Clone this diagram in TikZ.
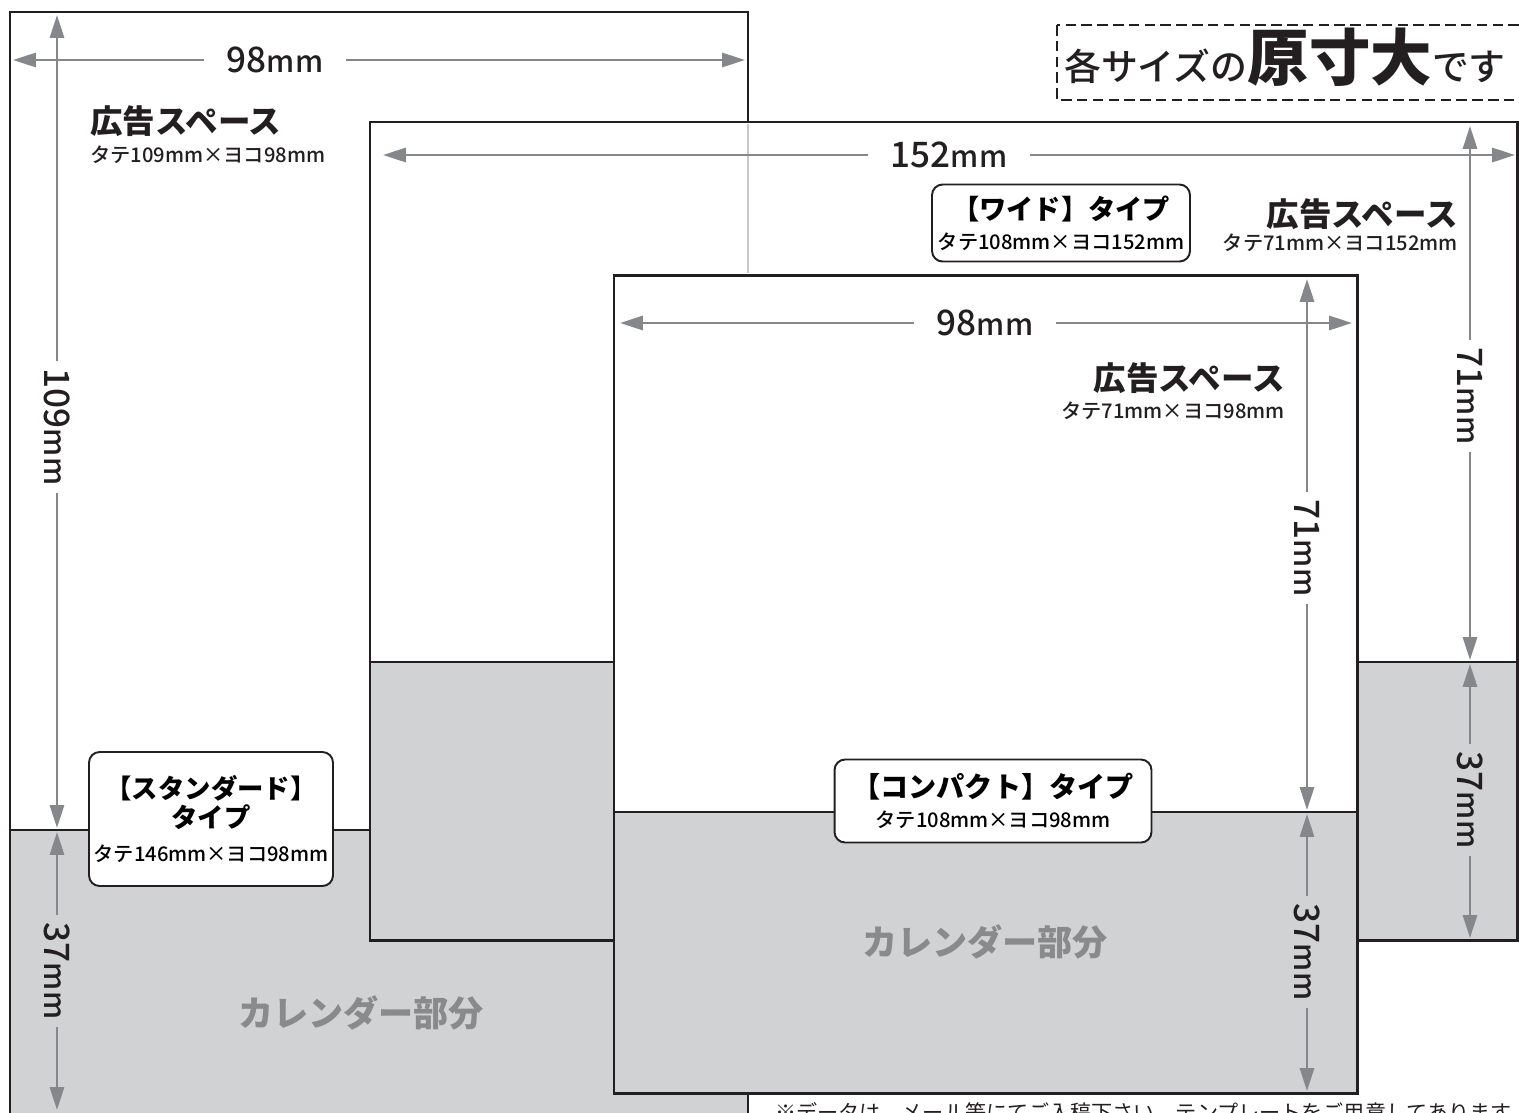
\documentclass[tikz,border=0pt]{standalone}
\usepackage{fontspec}
\setmainfont{Noto Sans CJK JP}
\newfontfamily\medfont{Noto Sans CJK JP Medium}
\usetikzlibrary{arrows.meta}
\definecolor{ink}{HTML}{231F20}
\definecolor{calgray}{HTML}{D1D2D4}
\definecolor{dimgray}{HTML}{85878A}
\definecolor{ghost}{HTML}{C8C9CB}
\definecolor{caltext}{HTML}{898A8C}
\newcommand{\dimtxt}[1]{{\medfont\fontsize{20}{21}\selectfont #1}{\medfont\fontsize{17}{18}\selectfont mm}}
\newcommand{\smalltxt}{\medfont\fontsize{11.5}{13}\selectfont}

\begin{document}
\begin{tikzpicture}[x=0.02cm, y=-0.02cm,
  frame/.style = {draw=ink, line width=1.7pt},
  sepline/.style = {draw=ink, line width=0.8pt},
  dim/.style = {draw=dimgray, line width=1.5pt, -{Triangle[length=13pt,width=8pt]}},
  dimh/.style = {text=ink, inner xsep=13pt, inner ysep=2pt},
  dimv/.style = {text=ink, rotate=-90, inner xsep=4pt, inner ysep=2pt},
  adtitle/.style = {font=\bfseries\fontsize{18.5}{21}\selectfont, text=ink, inner sep=0pt},
  adsize/.style = {font=\smalltxt, text=ink, inner sep=0pt},
  typebox/.style = {draw=ink, line width=1.1pt, rounded corners=6pt, fill=white, align=center, inner sep=0pt},
  caltxt/.style = {font=\bfseries\fontsize{20}{22}\selectfont, text=caltext}]
  \useasboundingbox (0,0) rectangle (1519,1113);
  \fill[white] (0,0) rectangle (1519,1113);
  % three sheets: left/top/right/bottom/calendar line
  \foreach \l/\t/\r/\b/\s in {10/12/748/1140/830, 370/122/1517/940/662, 614/275/1357/1093/812}{
    \fill[white] (\l,\t) rectangle (\r,\b);
    \fill[calgray] (\l,\s) rectangle (\r,\b);
    \draw[sepline] (\l,\s) -- (\r,\s);
    \draw[frame] (\l,\t) rectangle (\r,\b);
  }
  \draw[ghost, line width=1.2pt] (748,124) -- (748,273);

  % standard
  \coordinate (sL) at (13,60);
  \coordinate (sR) at (745,60);
  \node[dimh] (s98) at (275,60) {\dimtxt{98}};
  \draw[dim] (s98) -- (sL);
  \draw[dim] (s98) -- (sR);
  \coordinate (sT) at (57,15);
  \coordinate (sU) at (57,828);
  \coordinate (sD) at (57,832);
  \coordinate (sB) at (57,1110);
  \node[dimv] (s109) at (57,427) {\dimtxt{109}};
  \node[dimv] (s37) at (57,971) {\dimtxt{37}};
  \draw[dim] (s109) -- (sT);
  \draw[dim] (s109) -- (sU);
  \draw[dim] (s37) -- (sD);
  \draw[dim] (s37) -- (sB);
  \node[adtitle, anchor=base west] (sad) at (90,133) {広告スペース};
  \node[adsize, anchor=base west] (sadsize) at (90,162) {タテ109mm×ヨコ98mm};
  \node[typebox, minimum width=4.88cm, minimum height=2.68cm] (stype) at (211,819)
    {{\bfseries\fontsize{15}{16}\selectfont 【スタンダード】}\\[1pt]
     {\bfseries\fontsize{15}{16}\selectfont タイプ}\\[7pt]
     {\smalltxt タテ146mm×ヨコ98mm}};
  \node[caltxt] (scal) at (361,1013) {カレンダー部分};

  % wide
  \coordinate (wL) at (383,155);
  \coordinate (wR) at (1515,155);
  \node[dimh] (w152) at (949,155) {\dimtxt{152}};
  \draw[dim] (w152) -- (wL);
  \draw[dim] (w152) -- (wR);
  \coordinate (wT) at (1470,126);
  \coordinate (wU) at (1470,660);
  \coordinate (wD) at (1470,664);
  \coordinate (wB) at (1470,938);
  \node[dimv] (w71) at (1470,396) {\dimtxt{71}};
  \node[dimv] (w37) at (1470,800) {\dimtxt{37}};
  \draw[dim] (w71) -- (wT);
  \draw[dim] (w71) -- (wU);
  \draw[dim] (w37) -- (wD);
  \draw[dim] (w37) -- (wB);
  \node[adtitle, anchor=base east] (wad) at (1458,226) {広告スペース};
  \node[adsize, anchor=base east] (wadsize) at (1458,250) {タテ71mm×ヨコ152mm};
  \node[typebox, minimum width=5.16cm, minimum height=1.54cm] (wtype) at (1061,223)
    {{\bfseries\fontsize{15.5}{17}\selectfont 【ワイド】タイプ}\\[5pt]
     {\smalltxt タテ108mm×ヨコ152mm}};

  % compact
  \coordinate (cL) at (620,323);
  \coordinate (cR) at (1352,323);
  \node[dimh] (c98) at (985,323) {\dimtxt{98}};
  \draw[dim] (c98) -- (cL);
  \draw[dim] (c98) -- (cR);
  \coordinate (cT) at (1307,279);
  \coordinate (cU) at (1307,810);
  \coordinate (cD) at (1307,814);
  \coordinate (cB) at (1307,1091);
  \node[dimv] (c71) at (1307,548) {\dimtxt{71}};
  \node[dimv] (c37) at (1307,952) {\dimtxt{37}};
  \draw[dim] (c71) -- (cT);
  \draw[dim] (c71) -- (cU);
  \draw[dim] (c37) -- (cD);
  \draw[dim] (c37) -- (cB);
  \node[adtitle, anchor=base east] (cad) at (1285,390) {広告スペース};
  \node[adsize, anchor=base east] (cadsize) at (1285,418) {タテ71mm×ヨコ98mm};
  \node[typebox, minimum width=6.34cm, minimum height=1.66cm] (ctype) at (993,801)
    {{\bfseries\fontsize{16}{17}\selectfont 【コンパクト】タイプ}\\[5pt]
     {\smalltxt タテ108mm×ヨコ98mm}};
  \node[caltxt] (ccal) at (985,942) {カレンダー部分};

  % note at top right
  \draw[ink, line width=1.1pt, dash pattern=on 6pt off 3pt] (1057,25) rectangle (1545,100);
  \node[anchor=base, text=ink, inner sep=0pt] (sizenote) at (1285,80)
    {{\medfont\fontsize{21}{23}\selectfont 各サイズの}{\bfseries\fontsize{35}{38}\selectfont 原寸大}{\medfont\fontsize{21}{23}\selectfont です}};
  \node[anchor=base west, text=ink, inner sep=0pt, font=\fontsize{12}{14}\selectfont] (footnote) at (775,1120)
    {※データは、メール等にてご入稿下さい。テンプレートをご用意してあります。};
\end{tikzpicture}
\end{document}
